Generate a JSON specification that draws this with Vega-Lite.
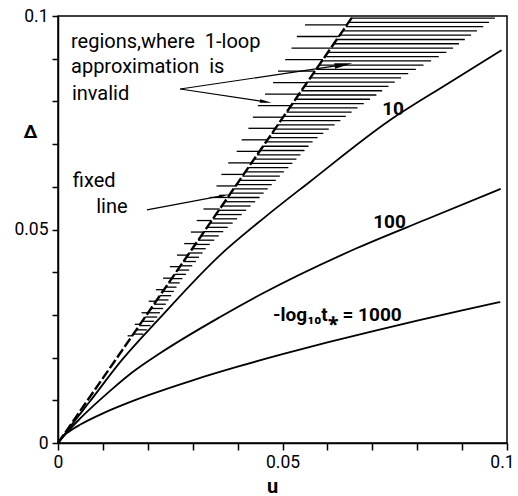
{
  "$schema": "https://vega.github.io/schema/vega-lite/v6.json",
  "width": 449,
  "height": 427,
  "autosize": "none",
  "padding": {"left": 58, "top": 16, "right": 11, "bottom": 53},
  "config": {
    "font": "Roboto",
    "view": {"stroke": "black", "strokeWidth": 1.5},
    "axis": {"grid": false, "domainColor": "black", "domainWidth": 1.5, "tickColor": "black", "tickWidth": 1.5, "labelColor": "black", "titleColor": "black", "labelFont": "Roboto", "titleFont": "Roboto"}
  },
  "datasets": {
    "curves": [
      {"series": "10", "u": 0, "d": 0}, {"series": "10", "u": 0.003, "d": 0.0042}, {"series": "10", "u": 0.007, "d": 0.0096}, {"series": "10", "u": 0.0142, "d": 0.0194}, {"series": "10", "u": 0.0227, "d": 0.0293}, {"series": "10", "u": 0.0361, "d": 0.044}, {"series": "10", "u": 0.0461, "d": 0.0529}, {"series": "10", "u": 0.0561, "d": 0.0612}, {"series": "10", "u": 0.0739, "d": 0.0756}, {"series": "10", "u": 0.0867, "d": 0.0841}, {"series": "10", "u": 0.0988, "d": 0.092},
      {"series": "100", "u": 0, "d": 0}, {"series": "100", "u": 0.002, "d": 0.0025}, {"series": "100", "u": 0.005, "d": 0.0058}, {"series": "100", "u": 0.0116, "d": 0.0122}, {"series": "100", "u": 0.0165, "d": 0.0165}, {"series": "100", "u": 0.0227, "d": 0.021}, {"series": "100", "u": 0.0361, "d": 0.0295}, {"series": "100", "u": 0.045, "d": 0.0347}, {"series": "100", "u": 0.0665, "d": 0.0456}, {"series": "100", "u": 0.0821, "d": 0.0524}, {"series": "100", "u": 0.0986, "d": 0.0595},
      {"series": "1000", "u": 0, "d": 0}, {"series": "1000", "u": 0.001, "d": 0.00145}, {"series": "1000", "u": 0.0025, "d": 0.00271}, {"series": "1000", "u": 0.005, "d": 0.00434}, {"series": "1000", "u": 0.01, "d": 0.00695}, {"series": "1000", "u": 0.015, "d": 0.00916}, {"series": "1000", "u": 0.02, "d": 0.01115}, {"series": "1000", "u": 0.03, "d": 0.01469}, {"series": "1000", "u": 0.04, "d": 0.01787}, {"series": "1000", "u": 0.05, "d": 0.0208}, {"series": "1000", "u": 0.06, "d": 0.02355}, {"series": "1000", "u": 0.07, "d": 0.02616}, {"series": "1000", "u": 0.08, "d": 0.02864}, {"series": "1000", "u": 0.09, "d": 0.03104}, {"series": "1000", "u": 0.0985, "d": 0.03302}
    ],
    "fixed": [
      {"u": 0, "d": 0}, {"u": 0.0131, "d": 0.0199}, {"u": 0.0657, "d": 0.1}
    ],
    "hatchDense": [
      {"d": 0.0995, "u1": 0.0654, "u2": 0.0973}, {"d": 0.0985, "u1": 0.0647, "u2": 0.096}, {"d": 0.0975, "u1": 0.0641, "u2": 0.0947}, {"d": 0.0965, "u1": 0.0634, "u2": 0.0933}, {"d": 0.0955, "u1": 0.0627, "u2": 0.092}, {"d": 0.0945, "u1": 0.0621, "u2": 0.0906}, {"d": 0.0935, "u1": 0.0614, "u2": 0.0893}, {"d": 0.0925, "u1": 0.0608, "u2": 0.088}, {"d": 0.0915, "u1": 0.0601, "u2": 0.0865}, {"d": 0.0905, "u1": 0.0595, "u2": 0.0848},
      {"d": 0.0895, "u1": 0.0588, "u2": 0.0831}, {"d": 0.0885, "u1": 0.0581, "u2": 0.0814}, {"d": 0.0875, "u1": 0.0575, "u2": 0.0797}, {"d": 0.0865, "u1": 0.0568, "u2": 0.078}, {"d": 0.0855, "u1": 0.0562, "u2": 0.0764}, {"d": 0.0845, "u1": 0.0555, "u2": 0.075}, {"d": 0.0835, "u1": 0.0549, "u2": 0.0736}, {"d": 0.0825, "u1": 0.0542, "u2": 0.0722}, {"d": 0.0815, "u1": 0.0535, "u2": 0.0709}, {"d": 0.0805, "u1": 0.0529, "u2": 0.0695},
      {"d": 0.0795, "u1": 0.0522, "u2": 0.0681}, {"d": 0.0785, "u1": 0.0516, "u2": 0.0667}, {"d": 0.0775, "u1": 0.0509, "u2": 0.0654}, {"d": 0.0765, "u1": 0.0503, "u2": 0.0641}, {"d": 0.0755, "u1": 0.0496, "u2": 0.0629}, {"d": 0.0745, "u1": 0.0489, "u2": 0.0616}, {"d": 0.0735, "u1": 0.0483, "u2": 0.0603}, {"d": 0.0725, "u1": 0.0476, "u2": 0.0591}, {"d": 0.0715, "u1": 0.047, "u2": 0.0578}, {"d": 0.0705, "u1": 0.0463, "u2": 0.0567},
      {"d": 0.0695, "u1": 0.0457, "u2": 0.0558}, {"d": 0.0685, "u1": 0.045, "u2": 0.0549}, {"d": 0.0675, "u1": 0.0443, "u2": 0.054}, {"d": 0.0665, "u1": 0.0437, "u2": 0.0531}, {"d": 0.0655, "u1": 0.043, "u2": 0.0522}, {"d": 0.0645, "u1": 0.0424, "u2": 0.0513}, {"d": 0.0635, "u1": 0.0417, "u2": 0.0503}, {"d": 0.0625, "u1": 0.0411, "u2": 0.0494}, {"d": 0.0615, "u1": 0.0404, "u2": 0.0485}, {"d": 0.0605, "u1": 0.0397, "u2": 0.0476},
      {"d": 0.0595, "u1": 0.0391, "u2": 0.0467}, {"d": 0.0585, "u1": 0.0384, "u2": 0.0458}, {"d": 0.0575, "u1": 0.0378, "u2": 0.0449}, {"d": 0.0565, "u1": 0.0371, "u2": 0.0439}, {"d": 0.0555, "u1": 0.0365, "u2": 0.0429}, {"d": 0.0545, "u1": 0.0358, "u2": 0.0419}, {"d": 0.0535, "u1": 0.0351, "u2": 0.0409}, {"d": 0.0525, "u1": 0.0345, "u2": 0.0399}, {"d": 0.0515, "u1": 0.0338, "u2": 0.0389}, {"d": 0.0505, "u1": 0.0332, "u2": 0.0378},
      {"d": 0.0495, "u1": 0.0325, "u2": 0.0368}, {"d": 0.0485, "u1": 0.0319, "u2": 0.0358}, {"d": 0.0475, "u1": 0.0312, "u2": 0.0348}, {"d": 0.0465, "u1": 0.0306, "u2": 0.0338}, {"d": 0.0455, "u1": 0.0299, "u2": 0.0329}, {"d": 0.0445, "u1": 0.0292, "u2": 0.0322}, {"d": 0.0435, "u1": 0.0286, "u2": 0.0314}, {"d": 0.0425, "u1": 0.0279, "u2": 0.0307}, {"d": 0.0415, "u1": 0.0273, "u2": 0.0299}, {"d": 0.0405, "u1": 0.0266, "u2": 0.0292},
      {"d": 0.0395, "u1": 0.026, "u2": 0.0285}, {"d": 0.0385, "u1": 0.0253, "u2": 0.0277}, {"d": 0.0375, "u1": 0.0246, "u2": 0.0271}, {"d": 0.0365, "u1": 0.024, "u2": 0.0264}, {"d": 0.0355, "u1": 0.0233, "u2": 0.0258}, {"d": 0.0345, "u1": 0.0227, "u2": 0.0252}, {"d": 0.0335, "u1": 0.022, "u2": 0.0246}, {"d": 0.0325, "u1": 0.0214, "u2": 0.024}, {"d": 0.0315, "u1": 0.0207, "u2": 0.0234}, {"d": 0.0305, "u1": 0.02, "u2": 0.0227},
      {"d": 0.0295, "u1": 0.0194, "u2": 0.0221}, {"d": 0.0285, "u1": 0.0187, "u2": 0.0214}, {"d": 0.0275, "u1": 0.0181, "u2": 0.0206}, {"d": 0.0265, "u1": 0.0174, "u2": 0.0198}, {"d": 0.0255, "u1": 0.0168, "u2": 0.019}
    ],
    "hatchLong": [
      {"d": 0.0979, "u1": 0.055, "u2": 0.0643}, {"d": 0.0952, "u1": 0.0532, "u2": 0.0625}, {"d": 0.0925, "u1": 0.052, "u2": 0.0608}, {"d": 0.0898, "u1": 0.0506, "u2": 0.059}, {"d": 0.0871, "u1": 0.049, "u2": 0.0572}, {"d": 0.0844, "u1": 0.0479, "u2": 0.0555}, {"d": 0.0817, "u1": 0.0461, "u2": 0.0537}, {"d": 0.079, "u1": 0.0445, "u2": 0.0519}, {"d": 0.0763, "u1": 0.0434, "u2": 0.0501}, {"d": 0.0737, "u1": 0.0424, "u2": 0.0484},
      {"d": 0.071, "u1": 0.0409, "u2": 0.0466}, {"d": 0.0683, "u1": 0.0398, "u2": 0.0449}, {"d": 0.0656, "u1": 0.0379, "u2": 0.0431}, {"d": 0.0629, "u1": 0.0364, "u2": 0.0413}, {"d": 0.0602, "u1": 0.0353, "u2": 0.0396}, {"d": 0.0575, "u1": 0.0338, "u2": 0.0378}, {"d": 0.0548, "u1": 0.0324, "u2": 0.036}, {"d": 0.0521, "u1": 0.0309, "u2": 0.0342}, {"d": 0.0494, "u1": 0.0296, "u2": 0.0325}, {"d": 0.0467, "u1": 0.0281, "u2": 0.0307},
      {"d": 0.044, "u1": 0.0265, "u2": 0.0289}, {"d": 0.0413, "u1": 0.0249, "u2": 0.0271}, {"d": 0.0386, "u1": 0.0234, "u2": 0.0254}, {"d": 0.0359, "u1": 0.0218, "u2": 0.0236}, {"d": 0.0332, "u1": 0.0202, "u2": 0.0218}, {"d": 0.0305, "u1": 0.0186, "u2": 0.02}, {"d": 0.0278, "u1": 0.0171, "u2": 0.0183}, {"d": 0.0251, "u1": 0.0155, "u2": 0.0165}
    ],
    "arrows": [
      {"u1": 0.0272, "d1": 0.0829, "u2": 0.0637, "d2": 0.0886},
      {"u1": 0.0272, "d1": 0.0829, "u2": 0.0463, "d2": 0.0799},
      {"u1": 0.0198, "d1": 0.0546, "u2": 0.037, "d2": 0.058}
    ],
    "heads": [
      {"id": "a", "u": 0.0636, "d": 0.0886},
      {"id": "b", "u": 0.0463, "d": 0.0799},
      {"id": "c", "u": 0.037, "d": 0.058}
    ],
    "notes": [
      {"label": "regions,where\u00a0 1-loop", "u": 0.0029, "d": 0.0924},
      {"label": "approximation\u00a0 is", "u": 0.0029, "d": 0.0866},
      {"label": "invalid", "u": 0.0031, "d": 0.0803},
      {"label": "fixed", "u": 0.0033, "d": 0.06},
      {"label": "line", "u": 0.0085, "d": 0.0538}
    ],
    "curveLabels": [
      {"label": "10", "u": 0.0722, "d": 0.0768},
      {"label": "100", "u": 0.0702, "d": 0.0504},
      {"label": "-log\u2081\u2080t\u204e = 1000", "u": 0.0479, "d": 0.0286}
    ]
  },
  "layer": [
    {
      "data": {"name": "hatchDense"},
      "mark": {"type": "rule", "color": "black", "strokeWidth": 1.3},
      "encoding": {
        "x": {"field": "u1", "type": "quantitative", "title": "u", "scale": {"domain": [0, 0.1], "nice": false, "zero": false},
          "axis": {"values": [0, 0.01, 0.02, 0.03, 0.04, 0.05, 0.06, 0.07, 0.08, 0.09, 0.1], "labelExpr": "datum.value == 0 ? '0' : (abs(datum.value - 0.05) < 0.001 ? '0.05' : (abs(datum.value - 0.1) < 0.001 ? '0.1' : ''))", "tickSize": 7, "labelFontSize": 17.5, "labelPadding": 3, "titleFontSize": 20, "titleFontWeight": "bold", "titleX": 214, "titleY": 49, "titleAlign": "center", "titleBaseline": "alphabetic", "labelFlush": false,
            "labelOffset": {"condition": {"test": "datum.value > 0.099", "value": -5}, "value": 0}}},
        "x2": {"field": "u2"},
        "y": {"field": "d", "type": "quantitative", "title": "Δ", "scale": {"domain": [0, 0.1], "nice": false, "zero": false},
          "axis": {"values": [0, 0.01, 0.02, 0.03, 0.04, 0.05, 0.06, 0.07, 0.08, 0.09, 0.1], "labelExpr": "datum.value == 0 ? '0' : (abs(datum.value - 0.05) < 0.001 ? '0.05' : (abs(datum.value - 0.1) < 0.001 ? '0.1' : ''))", "tickSize": 6, "labelFontSize": 17.5, "labelPadding": 4, "titleFontSize": 19, "titleFontWeight": "bold", "titleAngle": 0, "titleX": -28, "titleY": 121, "titleAlign": "center", "titleBaseline": "alphabetic", "labelFlush": false}}
      }
    },
    {
      "data": {"name": "hatchLong"},
      "mark": {"type": "rule", "color": "black", "strokeWidth": 1.3},
      "encoding": {
        "x": {"field": "u1", "type": "quantitative", "title": "u"},
        "x2": {"field": "u2"},
        "y": {"field": "d", "type": "quantitative", "title": "Δ"}
      }
    },
    {
      "data": {"name": "fixed"},
      "mark": {"type": "line", "color": "black", "strokeWidth": 2.4, "strokeDash": [10, 3]},
      "encoding": {
        "x": {"field": "u", "type": "quantitative", "title": "u"},
        "y": {"field": "d", "type": "quantitative", "title": "Δ"},
        "order": {"field": "u"}
      }
    },
    {
      "data": {"name": "curves"},
      "mark": {"type": "line", "color": "black", "strokeWidth": 1.8, "interpolate": "monotone"},
      "encoding": {
        "x": {"field": "u", "type": "quantitative", "title": "u"},
        "y": {"field": "d", "type": "quantitative", "title": "Δ"},
        "detail": {"field": "series"},
        "order": {"field": "u"}
      }
    },
    {
      "data": {"name": "arrows"},
      "mark": {"type": "rule", "color": "black", "strokeWidth": 1.2},
      "encoding": {
        "x": {"field": "u1", "type": "quantitative", "title": "u"},
        "y": {"field": "d1", "type": "quantitative", "title": "Δ"},
        "x2": {"field": "u2"},
        "y2": {"field": "d2"}
      }
    },
    {
      "data": {"name": "heads"},
      "transform": [{"filter": "datum.id == 'a'"}],
      "mark": {"type": "point", "shape": "M-1,-0.3L1,0L-1,0.3Z", "filled": true, "color": "black", "opacity": 1, "size": 324, "angle": -8.5},
      "encoding": {
        "x": {"field": "u", "type": "quantitative", "title": "u"},
        "y": {"field": "d", "type": "quantitative", "title": "Δ"}
      }
    },
    {
      "data": {"name": "heads"},
      "transform": [{"filter": "datum.id == 'b'"}],
      "mark": {"type": "point", "shape": "M-1,-0.3L1,0L-1,0.3Z", "filled": true, "color": "black", "opacity": 1, "size": 144, "angle": 8.6},
      "encoding": {
        "x": {"field": "u", "type": "quantitative", "title": "u"},
        "y": {"field": "d", "type": "quantitative", "title": "Δ"}
      }
    },
    {
      "data": {"name": "heads"},
      "transform": [{"filter": "datum.id == 'c'"}],
      "mark": {"type": "point", "shape": "M-1,-0.3L1,0L-1,0.3Z", "filled": true, "color": "black", "opacity": 1, "size": 100, "angle": -10.7},
      "encoding": {
        "x": {"field": "u", "type": "quantitative", "title": "u"},
        "y": {"field": "d", "type": "quantitative", "title": "Δ"}
      }
    },
    {
      "data": {"name": "notes"},
      "mark": {"type": "text", "align": "left", "baseline": "alphabetic", "fontSize": 20, "color": "black", "font": "Roboto"},
      "encoding": {
        "x": {"field": "u", "type": "quantitative", "title": "u"},
        "y": {"field": "d", "type": "quantitative", "title": "Δ"},
        "text": {"field": "label"}
      }
    },
    {
      "data": {"name": "curveLabels"},
      "mark": {"type": "text", "align": "left", "baseline": "alphabetic", "fontSize": 19, "fontWeight": "bold", "color": "black", "font": "Roboto"},
      "encoding": {
        "x": {"field": "u", "type": "quantitative", "title": "u"},
        "y": {"field": "d", "type": "quantitative", "title": "Δ"},
        "text": {"field": "label"}
      }
    }
  ]
}
